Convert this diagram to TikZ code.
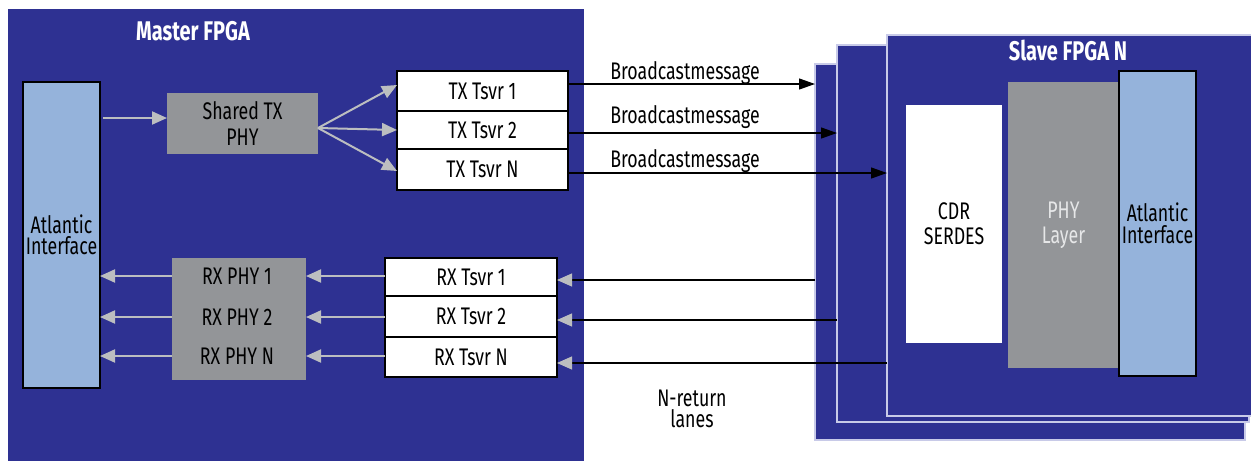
\documentclass[tikz,border=0pt]{standalone}
\usepackage{fontspec}
\setmainfont{Fira Sans}[FakeStretch=0.74]
\usetikzlibrary{arrows.meta}
\definecolor{fpga}{RGB}{46,49,146}
\definecolor{boxgray}{RGB}{147,149,152}
\definecolor{ltblue}{RGB}{149,179,219}
\definecolor{agray}{RGB}{188,190,192}
\definecolor{phytext}{RGB}{230,231,232}
\definecolor{edgeline}{RGB}{200,202,232}
\begin{document}
\begin{tikzpicture}[x=1pt,y=-1pt,
  blk/.style={anchor=north west, inner sep=0pt, outer sep=0pt, align=center},
  lbl/.style={font=\fontsize{24}{22}\selectfont, inner sep=0pt, align=center},
  ttl/.style={font=\fontsize{27}{27}\selectfont\bfseries, text=white, inner sep=0pt},
  container/.style={blk, fill=fpga},
  slavebox/.style={blk, fill=fpga, draw=edgeline, line width=1.3pt},
  graybox/.style={blk, fill=boxgray, font=\fontsize{24}{26}\selectfont},
  whitebox/.style={blk, fill=white, draw=black, line width=1.2pt, font=\fontsize{24}{22}\selectfont},
  bluebox/.style={blk, fill=ltblue, draw=black, line width=1.2pt, font=\fontsize{24}{21.5}\selectfont},
  garrow/.style={draw=agray, line width=2pt, -{Triangle[length=15pt,width=13pt]}},
  barrow/.style={draw=black, line width=1.2pt, -{Triangle[length=16pt,width=11pt]}},
  rline/.style={draw=black, line width=1.2pt, -{Triangle[length=15pt,width=13pt,color=agray]}}
]
\useasboundingbox (0,0) rectangle (1251,461);
% Master FPGA
\node[container, minimum width=576pt, minimum height=452pt] (master) at (8,9) {};
\node[ttl] (mtitle) at (193,31) {Master FPGA};
\node[bluebox, minimum width=77pt, minimum height=306pt] (atl) at (23,82) {Atlantic\\Interface};
\node[graybox, minimum width=151pt, minimum height=61pt] (shared) at (167,93) {Shared TX\\PHY};
\node[whitebox, minimum width=171pt, minimum height=40pt] (tx1) at (397,71) {TX Tsvr 1};
\node[whitebox, minimum width=171pt, minimum height=38pt] (tx2) at (397,111) {TX Tsvr 2};
\node[whitebox, minimum width=171pt, minimum height=41pt] (tx3) at (397,149) {TX Tsvr N};
\node[graybox, minimum width=134pt, minimum height=122pt] (rxphy) at (172,258) {};
\node[lbl] (p1) at (237,276) {RX PHY 1};
\node[lbl] (p2) at (237,317) {RX PHY 2};
\node[lbl] (p3) at (237,356) {RX PHY N};
\node[whitebox, minimum width=172pt, minimum height=38pt] (rx1) at (385,258) {RX Tsvr 1};
\node[whitebox, minimum width=172pt, minimum height=41pt] (rx2) at (385,296) {RX Tsvr 2};
\node[whitebox, minimum width=172pt, minimum height=40pt] (rx3) at (385,337) {RX Tsvr N};
% Slave FPGA stack
\node[slavebox, minimum width=430pt, minimum height=376pt] (back) at (815,64) {};
\node[slavebox, minimum width=412pt, minimum height=377pt] (mid) at (837,45) {};
\node[slavebox, minimum width=370pt, minimum height=381pt] (front) at (887,35) {};
\node[ttl] (stitle) at (1068,50) {Slave FPGA N};
\node[blk, fill=white, minimum width=96pt, minimum height=238pt, font=\fontsize{24}{25}\selectfont] (cdr) at (906,105) {CDR\\SERDES};
\node[graybox, minimum width=111pt, minimum height=286pt, text=phytext, font=\fontsize{24}{25}\selectfont] (phyl) at (1008,82) {PHY\\Layer};
\node[bluebox, minimum width=77pt, minimum height=305pt] (atr) at (1119,71) {Atlantic\\Interface};
% labels
\node[lbl, anchor=base] (bm1) at (685,79) {Broadcastmessage};
\node[lbl, anchor=base] (bm2) at (685,123) {Broadcastmessage};
\node[lbl, anchor=base] (bm3) at (685,167) {Broadcastmessage};
\node[lbl, font=\fontsize{24}{21}\selectfont] (nret) at (692,409) {N-return\\lanes};
% TX side arrows
\coordinate (sin) at ([yshift=5.5pt]shared.west);
\draw[garrow, shorten <=3pt] (atl.east |- sin) -- (sin);
\draw[garrow] ([yshift=-4.5pt]shared.east) -- ([yshift=6pt]tx1.west);
\draw[garrow] ([yshift=-4.5pt]shared.east) -- (tx2.west);
\draw[garrow] ([yshift=-4.5pt]shared.east) -- ([yshift=-1.5pt]tx3.west);
\coordinate (b1) at ([yshift=7pt]tx1.east);
\coordinate (b2) at ([yshift=-3pt]tx2.east);
\coordinate (b3) at ([yshift=-3.5pt]tx3.east);
\draw[barrow] (b1) -- (b1 -| back.west);
\draw[barrow] (b2) -- (b2 -| mid.west);
\draw[barrow] (b3) -- (b3 -| front.west);
% RX side arrows
\coordinate (r1) at ([yshift=-3pt]rx1.east);
\coordinate (r2) at ([yshift=-3.5pt]rx2.east);
\coordinate (r3) at ([yshift=-6pt]rx3.east);
\draw[rline] (r1 -| back.west) -- (r1);
\draw[rline] (r2 -| mid.west) -- (r2);
\draw[rline] (r3 -| front.west) -- (r3);
\draw[garrow] (rx1.west |- p1) -- (rxphy.east |- p1);
\draw[garrow] (rx2.west |- p2) -- (rxphy.east |- p2);
\draw[garrow] (rx3.west |- p3) -- (rxphy.east |- p3);
\draw[garrow] (rxphy.west |- p1) -- (atl.east |- p1);
\draw[garrow] (rxphy.west |- p2) -- (atl.east |- p2);
\draw[garrow] (rxphy.west |- p3) -- (atl.east |- p3);
\end{tikzpicture}
\end{document}
